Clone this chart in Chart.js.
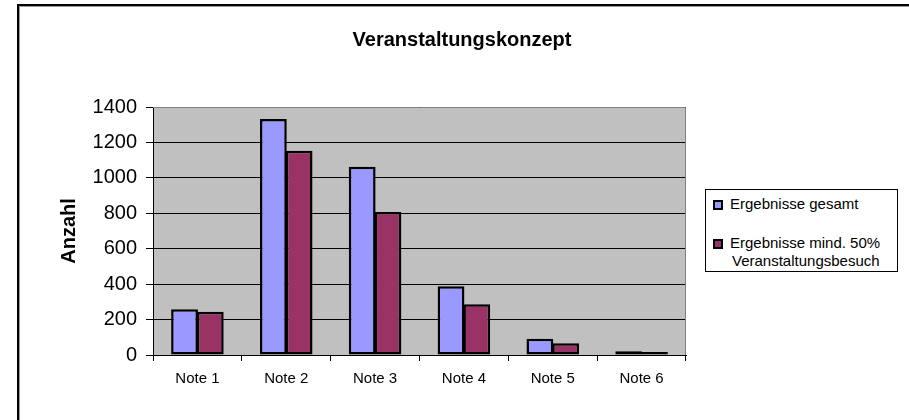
<!DOCTYPE html>
<html>
<head>
<meta charset="utf-8">
<script src="https://cdn.jsdelivr.net/npm/chart.js@4.4.1/dist/chart.umd.min.js"></script>
<style>
    html, body { margin: 0; padding: 0; background: #fff; overflow: hidden; }
    #wrap { position: relative; width: 909px; height: 420px; overflow: hidden; font-family: 'Liberation Sans', Arial, sans-serif; }
    #frame { position: absolute; left: 17px; top: 4px; width: 2000px; height: 2000px; border-left: 2px solid #000; border-top: 2px solid #000; box-shadow: inset 1px 1px 0 #999; }
    #chart { position: absolute; left: 0; top: 0; }
    #title { position: absolute; left: 262px; width: 400px; top: 29px; text-align: center; font-weight: bold; font-size: 20px; line-height: 20px; }
    #legend { position: absolute; left: 705px; top: 189px; width: 191px; height: 81px; border: 1px solid #000; background: #fff; }
    .mk { position: absolute; left: 7px; width: 6px; height: 6px; border: 2px solid #000; }
    .lt { position: absolute; left: 24px; font-size: 15px; line-height: 18px; white-space: nowrap; }
</style>
</head>
<body>
<div id="wrap">
    <div id="frame"></div>
    <canvas id="chart" width="909" height="420"></canvas>
    <div id="title">Veranstaltungskonzept</div>
    <div id="legend"></div>
</div>
<script>
// Werte
const categories = ['Note 1', 'Note 2', 'Note 3', 'Note 4', 'Note 5', 'Note 6'];
const gesamt = [258, 1332, 1063, 388, 92, 21];
const mind50 = [244, 1153, 807, 286, 66, 17];
const seriesNames = ['Ergebnisse gesamt', ['Ergebnisse mind. 50%', 'Veranstaltungsbesuch']];
const seriesColors = ['#9999ff', '#993366'];

const FONT = "'Liberation Sans', Arial, sans-serif";

// graue Plotfläche mit Rand oben/rechts
const plotArea = {
    id: 'plotArea',
    beforeDraw(chart) {
        const { ctx, chartArea: a } = chart;
        ctx.save();
        ctx.fillStyle = '#c0c0c0';
        ctx.fillRect(a.left, a.top, a.right - a.left, a.bottom - a.top);
        ctx.restore();
    },
    afterDatasetsDraw(chart) {
        const { ctx, chartArea: a } = chart;
        ctx.save();
        ctx.strokeStyle = '#808080';
        ctx.lineWidth = 1;
        ctx.beginPath();
        ctx.moveTo(a.left, a.top + 0.5);
        ctx.lineTo(a.right - 0.5, a.top + 0.5);
        ctx.lineTo(a.right - 0.5, a.bottom);
        ctx.stroke();
        ctx.restore();
    }
};

new Chart(document.getElementById('chart'), {
    type: 'bar',
    data: {
        labels: categories,
        datasets: [{
            label: 'Ergebnisse gesamt',
            data: gesamt,
            backgroundColor: seriesColors[0],
            borderColor: '#000',
            borderWidth: 2.5,
            borderSkipped: false
        }, {
            label: 'Ergebnisse mind. 50% Veranstaltungsbesuch',
            data: mind50,
            backgroundColor: seriesColors[1],
            borderColor: '#000',
            borderWidth: 2.5,
            borderSkipped: false
        }]
    },
    options: {
        responsive: false,
        animation: false,
        layout: { padding: { left: 0, right: 223, top: 107, bottom: 0 } },
        datasets: { bar: { categoryPercentage: 0.58, barPercentage: 1.04 } },
        plugins: {
            legend: { display: false },
            tooltip: { enabled: false }
        },
        scales: {
            x: {
                afterFit(scale) { scale.height = 65; },
                grid: { display: true, drawOnChartArea: false, color: '#000', tickLength: 6 },
                border: { color: '#000', width: 1 },
                ticks: { color: '#000', padding: 9, font: { family: FONT, size: 15 } }
            },
            y: {
                min: 0,
                max: 1400,
                afterFit(scale) { scale.width = 153; },
                grid: { color: '#000', tickLength: 7 },
                border: { color: '#000', width: 1 },
                ticks: {
                    stepSize: 200,
                    color: '#000',
                    padding: 9,
                    font: { family: FONT, size: 20 },
                    callback: v => String(v)
                },
                title: {
                    display: true,
                    text: 'Anzahl',
                    color: '#000',
                    padding: { top: 57 },
                    font: { family: FONT, size: 20, weight: 'bold' }
                }
            }
        }
    },
    plugins: [plotArea]
});

// Legende als Kasten rechts
const legend = document.getElementById('legend');
const rows = [{ mk: 10, lines: [5] }, { mk: 49, lines: [44, 62] }];
seriesNames.forEach((name, i) => {
    const mk = document.createElement('div');
    mk.className = 'mk';
    mk.style.top = rows[i].mk + 'px';
    mk.style.background = seriesColors[i];
    legend.appendChild(mk);
    const lines = Array.isArray(name) ? name : [name];
    lines.forEach((t, j) => {
        const el = document.createElement('div');
        el.className = 'lt';
        el.style.top = rows[i].lines[j] + 'px';
        if (j > 0) el.style.left = '26px';
        el.textContent = t;
        legend.appendChild(el);
    });
});
</script>
</body>
</html>
